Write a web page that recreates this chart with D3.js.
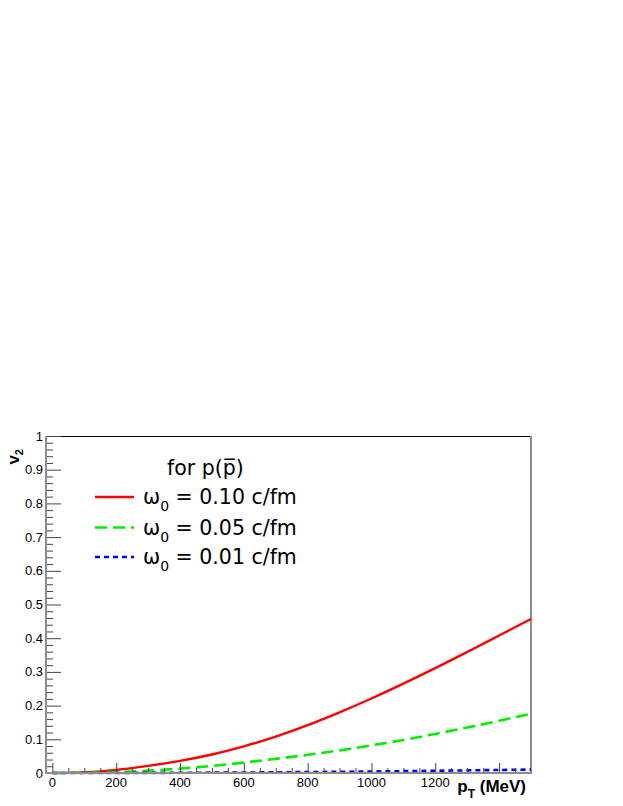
<!DOCTYPE html>
<html>
<head>
<meta charset="utf-8">
<script src="https://cdn.jsdelivr.net/npm/d3@7"></script>
<style>
  body { margin: 0; background: #fff; }
  svg { display: block; }
</style>
</head>
<body>
<div id="chart"></div>
<script>
// data
var ptValues = [0, 100, 200, 300, 400, 500, 600, 700, 800, 900, 1000, 1100, 1200, 1300, 1400, 1500];
var v2Omega010 = [0, 0.002, 0.009, 0.021, 0.036, 0.055, 0.079, 0.108, 0.142, 0.180, 0.221, 0.265, 0.311, 0.359, 0.408, 0.457];
var v2Omega005 = [0, 0.001, 0.003, 0.007, 0.013, 0.021, 0.031, 0.042, 0.054, 0.067, 0.082, 0.098, 0.116, 0.135, 0.155, 0.176];
var v2Omega001 = [0, 0, 0.0001, 0.0003, 0.0006, 0.001, 0.0015, 0.002, 0.0028, 0.0036, 0.0045, 0.0055, 0.0066, 0.0078, 0.009, 0.0102];
var seriesLabels = ["0.10 c/fm", "0.05 c/fm", "0.01 c/fm"];
var xTickLabels = [0, 200, 400, 600, 800, 1000, 1200];
var yTickLabels = [0, 0.1, 0.2, 0.3, 0.4, 0.5, 0.6, 0.7, 0.8, 0.9, 1];

var W = 623, H = 806;
var frame = {left: 46, right: 531, top: 436, bottom: 773};

var svg = d3.select("#chart")
  .append("svg")
    .attr("width", W)
    .attr("height", H);

var x = d3.scaleLinear()
  .domain([-20, 1500])
  .range([frame.left, frame.right]);

var y = d3.scaleLinear()
  .domain([0, 1])
  .range([frame.bottom, frame.top]);

var labelFont = "'Liberation Sans', Arial, sans-serif";

// frame: top black, right gray
svg.append("line")
  .attr("x1", frame.left).attr("x2", frame.right)
  .attr("y1", frame.top + 0.5).attr("y2", frame.top + 0.5)
  .attr("stroke", "#000").attr("stroke-width", 1);
svg.append("line")
  .attr("x1", frame.right).attr("x2", frame.right)
  .attr("y1", frame.top).attr("y2", frame.bottom)
  .attr("stroke", "#8c8c8c").attr("stroke-width", 2);

// curves
var series = [
  {values: v2Omega010, color: "#ff0000", dash: null, width: 2.4},
  {values: v2Omega005, color: "#00ee00", dash: "12,6", width: 2.6},
  {values: v2Omega001, color: "#0000ff", dash: "5,4", width: 2.6}
];

var line = d3.line()
  .x(function(d) { return x(d[0]); })
  .y(function(d) { return y(d[1]); })
  .curve(d3.curveCatmullRom);

series.forEach(function(s) {
  svg.append("path")
    .datum(ptValues.map(function(p, i) { return [p, s.values[i]]; }))
    .attr("fill", "none")
    .attr("stroke", s.color)
    .attr("stroke-width", s.width)
    .attr("stroke-dasharray", s.dash)
    .attr("d", line);
});

// Y axis: ticks pointing inward
var yAxis = svg.append("g")
  .attr("transform", "translate(" + frame.left + ",0)")
  .call(d3.axisRight(y).tickValues(d3.range(0, 1.0001, 0.02)).tickSize(7).tickFormat(""));
yAxis.selectAll(".tick line")
  .attr("stroke", "#444")
  .attr("x2", function(d) { return Math.abs(Math.round(d * 100) % 10) < 0.5 ? 15 : 7; });
yAxis.select(".domain").remove();

svg.append("g")
  .selectAll("text")
  .data(yTickLabels)
  .enter()
  .append("text")
    .attr("x", 43)
    .attr("y", function(d) { return y(d) + 4.5; })
    .attr("text-anchor", "end")
    .style("font-family", labelFont)
    .style("font-size", "13px")
    .attr("fill", "#000")
    .text(function(d) { return d; });

// X axis: ticks pointing upward
var xAxis = svg.append("g")
  .attr("transform", "translate(0," + frame.bottom + ")")
  .call(d3.axisTop(x).tickValues(d3.range(0, 1451, 50)).tickSize(5).tickFormat(""));
xAxis.selectAll(".tick line")
  .attr("stroke", "#444")
  .attr("y2", function(d) { return d % 200 === 0 ? -10 : -5; });
xAxis.select(".domain").remove();

svg.append("g")
  .selectAll("text")
  .data(xTickLabels)
  .enter()
  .append("text")
    .attr("x", function(d) { return x(d); })
    .attr("y", 787)
    .attr("text-anchor", "middle")
    .style("font-family", labelFont)
    .style("font-size", "13px")
    .attr("fill", "#000")
    .text(function(d) { return d; });

// axis lines, gray
svg.append("line")
  .attr("x1", frame.left).attr("x2", frame.left)
  .attr("y1", frame.top).attr("y2", frame.bottom + 1)
  .attr("stroke", "#8c8c8c").attr("stroke-width", 2);
svg.append("line")
  .attr("x1", frame.left).attr("x2", frame.right + 1)
  .attr("y1", frame.bottom).attr("y2", frame.bottom)
  .attr("stroke", "#8c8c8c").attr("stroke-width", 2);

// axis titles
var xTitle = svg.append("text")
  .attr("x", 526)
  .attr("y", 792)
  .attr("text-anchor", "end")
  .style("font-family", labelFont)
  .style("font-size", "17px")
  .style("font-weight", "bold");
xTitle.append("tspan").text("p");
xTitle.append("tspan").attr("dy", 6).style("font-size", "12px").text("T");
xTitle.append("tspan").attr("dy", -6).text(" (MeV)");

var yTitle = svg.append("text")
  .attr("transform", "translate(19,449) rotate(-90)")
  .attr("text-anchor", "end")
  .style("font-family", labelFont)
  .style("font-size", "17px")
  .style("font-weight", "bold");
yTitle.append("tspan").text("v");
yTitle.append("tspan").attr("dy", 4).style("font-size", "11px").text("2");

// legend
var legendFont = "'DejaVu Sans', sans-serif";
svg.append("text")
  .attr("x", 167)
  .attr("y", 475)
  .style("font-family", legendFont)
  .style("font-size", "20.5px")
  .text("for p(p\u0305)");

var legendY = [497, 527.5, 557];
series.forEach(function(s, i) {
  svg.append("line")
    .attr("x1", 95).attr("x2", 134)
    .attr("y1", legendY[i]).attr("y2", legendY[i])
    .attr("stroke", s.color)
    .attr("stroke-width", s.width)
    .attr("stroke-dasharray", s.dash);
  var t = svg.append("text")
    .attr("x", 143)
    .attr("y", legendY[i] + 7)
    .style("font-family", legendFont)
    .style("font-size", "20.5px");
  t.append("tspan").text("\u03c9");
  t.append("tspan").attr("dy", 7).style("font-size", "14px").text("0");
  t.append("tspan").attr("dy", -7).text(" = " + seriesLabels[i]);
});
</script>
</body>
</html>
